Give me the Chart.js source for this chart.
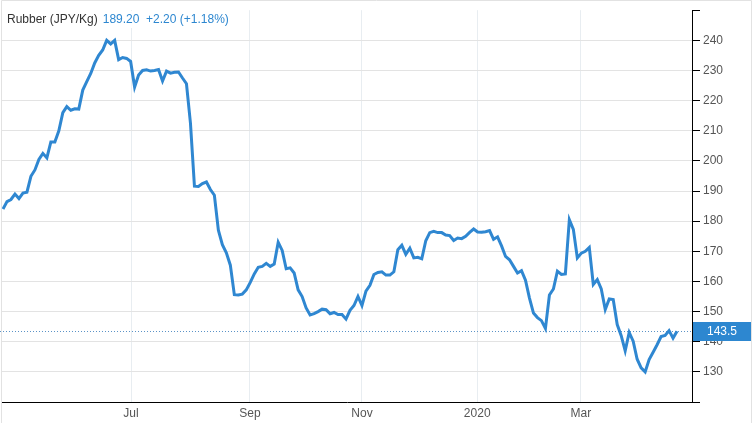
<!DOCTYPE html>
<html lang="en">

<head>
    <meta charset="UTF-8">
    <script src="https://cdn.jsdelivr.net/npm/chart.js"></script>
    <title>Rubber (JPY/Kg)</title>
    <style>
        body { margin: 0; background: #fff; }
    </style>
</head>

<body>
    <canvas id="chart" width="756" height="423"></canvas>
    <script>
        // header text
        const seriesName = 'Rubber (JPY/Kg)'
        const quote = '189.20'
        const change = '+2.20 (+1.18%)'
        const lastPrice = 143.5

        // daily closes (one value per sample, oldest first)
        const prices = [
            184, 186.5, 187.2, 189, 187.5, 189.3, 189.6, 194.9, 197, 200.5,
            202.5, 201, 206.3, 206.3, 210, 216, 218, 216.8, 217.3, 217.2,
            223.5, 226.3, 229, 232.5, 235, 236.8, 240, 238.8, 240, 233.6,
            234.3, 234, 233, 224.5, 228.5, 230, 230.2, 229.8, 230, 230.3,
            226.5, 229.8, 229.1, 229.4, 229.5, 227.5, 225.6, 212.5, 191.6, 191.5,
            192.5, 193, 190.5, 188.6, 177, 172.2, 169.5, 165.4, 155.6, 155.5,
            155.8, 157.2, 159.7, 162.5, 164.7, 165, 166, 165, 165.8, 173,
            170.3, 164.2, 164.5, 162.8, 157.2, 155, 151.2, 148.9, 149.3, 150,
            150.8, 150.6, 149.3, 149.7, 149, 149, 147.5, 150.4, 152, 155,
            152, 156.8, 158.7, 162.3, 163, 163.2, 162.1, 162.1, 163.2, 170.5,
            172, 169, 171, 167.8, 168, 167.5, 173.5, 176.2, 176.6, 176.2,
            176.2, 175.4, 175.2, 173.6, 174.4, 174.2, 175, 176.3, 177.4, 176.4,
            176.3, 176.5, 176.9, 174, 174.8, 171.8, 168.3, 167.2, 165, 162.8,
            163.6, 160.4, 154.5, 149.5, 148, 147, 144.4, 155.5, 157.5, 163.4,
            162.3, 162.5, 180.5, 177.3, 167.8, 169.4, 170, 171.3, 159, 160.6,
            157.5, 150.7, 154.2, 154, 145.7, 142, 137, 143.1, 140.2, 134.2,
            131.3, 130, 134.1, 136.5, 139, 141.7, 142.1, 143.7, 141.2, 143.5
        ]

        // month labels and the sample index where each month starts
        const monthLabels = ['Jul', 'Sep', 'Nov', '2020', 'Mar']
        const monthStarts = [32.1, 61.9, 90.0, 118.9, 144.9]

        const yTicksShown = [130, 240]

        const blue = '#2f87d1'
        const font = "'Liberation Sans', Arial, Helvetica, sans-serif"
        Chart.defaults.font.family = font
        Chart.defaults.font.size = 12
        Chart.defaults.color = '#555'

        const overlay = {
            id: 'overlay',
            beforeDraw: (chart) => {
                const ctx = chart.ctx
                ctx.save()
                ctx.fillStyle = '#fff'
                ctx.fillRect(0, 0, chart.width, chart.height)
                ctx.restore()
            },
            beforeDatasetsDraw: (chart) => {
                const { ctx, chartArea, scales } = chart
                const y = Math.round(scales.y.getPixelForValue(lastPrice)) + 0.5
                ctx.save()
                ctx.strokeStyle = '#5b93c7'
                ctx.lineWidth = 1
                ctx.setLineDash([1, 2])
                ctx.beginPath()
                ctx.moveTo(0, y)
                ctx.lineTo(chartArea.right, y)
                ctx.stroke()
                ctx.restore()
            },
            afterDraw: (chart) => {
                const { ctx, chartArea, scales } = chart
                ctx.save()
                // outer frame
                ctx.strokeStyle = '#e2e2e2'
                ctx.lineWidth = 1
                ctx.beginPath()
                ctx.moveTo(1.5, 430)
                ctx.lineTo(1.5, 0.5)
                ctx.lineTo(751.5, 0.5)
                ctx.lineTo(751.5, 430)
                ctx.stroke()

                // last price marker
                const y = scales.y.getPixelForValue(lastPrice)
                ctx.fillStyle = '#2d87d0'
                ctx.fillRect(chartArea.right + 1, Math.round(y) - 9, 58, 19)
                ctx.fillStyle = '#fff'
                ctx.font = '12px ' + font
                ctx.textBaseline = 'middle'
                ctx.fillText(lastPrice.toFixed(1), chartArea.right + 15, y + 0.5)

                // header
                ctx.font = '12px ' + font
                const w1 = ctx.measureText(seriesName).width
                const w2 = ctx.measureText(quote + '  ' + change).width
                ctx.fillStyle = '#fff'
                ctx.fillRect(5, 11, w1 + w2 + 10, 17)
                ctx.fillStyle = '#333'
                ctx.fillText(seriesName, 7, 20)
                ctx.fillStyle = '#2d87d0'
                ctx.fillText(quote + '  ' + change, 7 + w1 + 5, 20)
                ctx.restore()
            }
        }

        new Chart(document.getElementById('chart'), {
            type: 'line',
            data: {
                labels: prices.map((p, i) => i),
                datasets: [{
                    data: prices.map((p, i) => ({ x: i, y: p })),
                    borderColor: blue,
                    borderWidth: 3,
                    pointRadius: 0,
                    tension: 0,
                    fill: false
                }]
            },
            options: {
                responsive: false,
                animation: false,
                layout: { padding: { left: 2, top: 3, right: 0, bottom: 0 } },
                plugins: {
                    legend: { display: false },
                    tooltip: { enabled: false }
                },
                scales: {
                    x: {
                        type: 'linear',
                        min: -0.25,
                        max: 172.75,
                        afterBuildTicks: (scale) => {
                            scale.ticks = monthStarts.map(v => ({ value: v }))
                        },
                        afterFit: (scale) => { scale.height = 21 },
                        ticks: {
                            autoSkip: false,
                            maxRotation: 0,
                            padding: 4,
                            color: '#555',
                            callback: (v, i) => monthLabels[i]
                        },
                        grid: {
                            color: '#e8edf1',
                            drawTicks: false
                        },
                        border: { color: '#000', width: 1 }
                    },
                    y: {
                        position: 'right',
                        min: 120,
                        max: 250,
                        afterFit: (scale) => { scale.width = 64 },
                        ticks: {
                            stepSize: 10,
                            padding: 3,
                            color: '#555',
                            callback: (v) => (v >= yTicksShown[0] && v <= yTicksShown[1]) ? v : ''
                        },
                        grid: {
                            color: (c) => (c.tick && c.tick.value >= yTicksShown[0] && c.tick.value <= yTicksShown[1]) ? '#e3e3e3' : 'rgba(0,0,0,0)',
                            tickColor: '#000',
                            tickLength: 8
                        },
                        border: { color: '#000', width: 1 }
                    }
                }
            },
            plugins: [overlay]
        })
    </script>
</body>

</html>
